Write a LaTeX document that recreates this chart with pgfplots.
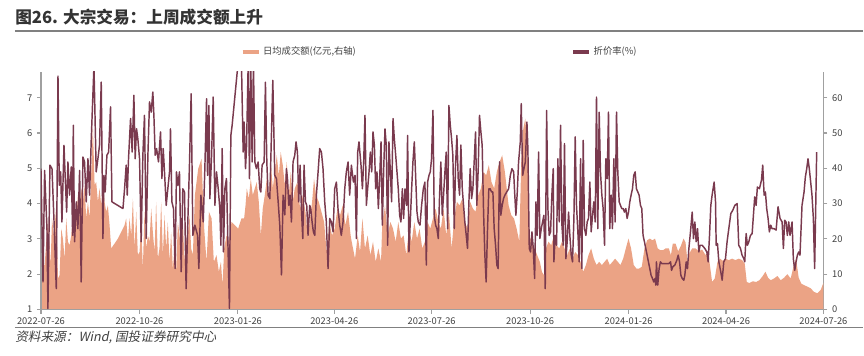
\documentclass[border=0pt]{standalone}
\usepackage{fontspec}
\usepackage{pgfplots}
\usepackage{pgfplotstable}
\pgfplotsset{compat=1.18}
\setmainfont{Noto Sans CJK SC}
\newfontfamily\srcfont[FakeSlant=0.2]{Noto Sans CJK SC}
\definecolor{areaC}{HTML}{EBA385}
\definecolor{lineC}{HTML}{7A3A4E}
\definecolor{axC}{HTML}{A0A0A0}
\definecolor{txtC}{HTML}{404040}
\definecolor{ttlC}{HTML}{333333}

\pgfplotstableread{
d v
0 4.99
1.9 1.78
3.4 4.94
5.6 3.29
6.5 1.03
8.4 5.09
10.3 4.99
12.1 3.58
14.3 1.59
15.9 7.61
17.1 4.52
18.4 4.90
19.6 3.48
21.5 5.65
22.7 4.71
24.0 3.76
25.2 5.18
26.7 4.24
28.3 5.04
29.6 3.10
30.2 6.22
31.4 2.92
33.0 4.05
34.5 3.29
36.1 4.94
37.6 1.78
39.2 5.32
40.7 5.18
42.3 4.05
43.9 5.27
45.4 4.24
47.0 5.84
49.5 7.9
51.6 4.90
53.2 5.27
54.7 5.65
56.3 7.44
57.9 3.01
58.8 4.80
60.0 4.33
61.6 5.37
63.2 5.46
65.0 6.74
66.3 4.05
76.6 3.86
78.1 4.42
79.6 5.09
80.6 4.24
81.8 5.27
83.7 6.41
85.2 5.46
86.8 7.07
88.0 5.27
89.3 6.12
90.5 5.84
92.1 5.27
93.6 2.92
95.2 5.37
96.7 6.50
98.3 3.01
99.9 5.37
101.4 6.88
103.0 6.59
104.5 7.16
105.5 6.50
106.7 5.37
108.0 5.56
109.8 5.18
111.7 6.03
113.0 4.71
114.2 5.56
115.4 4.90
117.0 3.95
118.5 4.42
120.1 4.90
121.0 6.12
122.3 4.05
123.8 3.86
125.3 2.16
126.6 4.90
127.9 4.52
129.4 4.90
131.0 2.07
132.5 4.42
134.1 4.33
135.6 1.59
137.2 3.48
138.8 5.18
140.3 7.11
141.9 3.10
143.8 3.39
146.3 3.10
147.5 2.16
149.4 4.24
151.6 3.48
153.1 4.99
154.7 6.97
155.6 4.80
156.9 6.78
157.8 4.14
159.4 5.37
160.9 7.02
162.5 3.95
164.0 4.90
165.6 4.42
167.1 3.86
168.1 2.82
169.3 5.56
170.5 2.63
171.8 4.42
173.3 4.71
174.9 2.54
176.1 1.03
177.4 5.93
178.6 6.22
184.2 8.0
187.3 8.0
188.9 5.46
189.8 6.31
191.1 4.99
192.0 5.56
193.6 8.0
194.8 4.71
196.0 8.0
197.3 5.18
198.5 8.0
199.8 5.18
201.3 4.99
202.9 5.18
204.4 4.42
205.4 4.33
206.6 5.09
208.5 5.18
209.7 7.44
211.0 5.18
212.2 4.24
213.8 4.14
216.6 7.49
218.4 4.80
220.0 4.71
221.6 4.05
223.1 3.39
224.7 1.98
226.2 4.24
227.8 3.68
229.3 4.99
230.3 4.71
231.5 3.95
232.7 4.24
234.0 3.48
235.5 5.18
237.1 5.37
238.3 5.75
239.6 5.46
240.8 4.05
242.1 5.09
243.3 3.86
244.6 3.01
245.8 5.09
247.1 4.05
248.3 3.95
249.5 3.10
251.1 3.95
252.0 3.86
253.3 3.48
254.5 3.20
255.8 3.10
257.3 4.24
258.9 4.90
260.4 5.56
262.0 5.46
263.5 4.99
265.1 4.05
266.6 3.48
268.2 2.16
269.8 3.58
271.3 3.48
272.9 3.20
274.4 4.42
276.0 4.61
277.5 3.86
279.1 3.39
280.6 3.10
282.2 3.48
283.8 4.42
285.3 4.90
286.9 5.18
288.4 4.24
290.0 5.09
291.9 4.61
293.4 4.80
294.7 3.01
295.9 5.46
297.1 5.75
299.0 5.09
300.3 4.42
301.5 5.18
302.7 6.50
304.0 3.95
305.2 4.42
306.5 4.90
307.7 5.46
309.0 4.90
310.2 6.03
311.5 5.65
312.7 4.42
313.9 4.90
315.2 3.86
316.4 4.71
317.7 5.75
318.9 3.39
320.2 4.99
321.4 6.12
322.6 5.65
323.9 2.82
325.1 5.75
326.4 4.90
327.6 4.05
328.9 6.41
330.1 5.84
331.4 5.37
332.6 4.90
333.8 4.42
335.1 3.67
336.3 3.48
337.6 4.42
338.8 3.58
340.1 4.42
341.6 3.95
342.5 5.93
343.8 2.63
345.0 3.48
346.3 4.42
347.5 5.18
348.8 5.75
350.0 4.80
351.3 3.76
352.5 3.48
354.1 3.39
355.6 3.95
357.2 4.42
358.7 4.61
360.0 2.26
361.2 4.61
362.5 4.80
363.7 4.90
364.9 5.27
366.2 6.64
367.4 3.67
368.7 3.39
369.9 3.29
371.2 3.01
372.4 4.24
373.6 5.18
374.9 3.67
376.1 4.24
377.4 4.90
378.6 5.46
379.9 3.29
381.1 6.78
382.4 6.22
383.6 5.84
384.8 5.37
386.1 3.29
387.3 5.09
388.6 5.93
389.8 4.71
391.1 4.24
392.3 5.66
393.6 4.42
394.8 3.95
396.0 3.48
397.3 3.10
398.5 2.73
399.8 4.05
401.0 4.99
402.3 4.14
403.5 4.42
404.7 5.18
406.0 6.03
407.2 3.95
408.5 4.99
409.7 6.50
411.0 6.03
412.2 5.65
413.5 3.76
414.7 2.54
415.9 1.78
417.2 3.29
418.4 4.42
419.7 4.42
420.9 4.33
422.2 4.33
423.4 3.29
424.7 2.82
425.9 2.26
427.1 2.16
428.4 5.18
429.6 3.67
430.9 3.95
432.1 4.14
433.4 4.24
436.9 4.42
438.5 4.80
440.0 4.99
441.6 4.90
442.5 4.33
443.7 3.67
445.0 4.33
446.2 5.18
447.8 5.75
448.7 6.83
450.0 4.80
451.2 4.99
452.5 5.18
454.0 6.31
454.9 5.56
456.2 2.73
457.4 2.63
458.7 3.20
459.9 2.73
461.2 1.88
462.4 4.05
463.6 3.10
464.9 5.46
466.1 3.01
467.4 3.29
468.6 3.48
469.9 3.67
471.1 1.59
472.4 6.64
473.6 3.86
474.8 3.10
476.1 3.20
477.3 4.24
478.6 4.99
479.2 2.35
480.4 3.10
481.7 2.82
482.9 5.27
484.2 3.48
485.4 6.22
486.7 3.39
487.9 2.82
489.1 5.70
490.4 2.44
491.6 2.92
492.9 3.76
494.1 3.10
495.4 2.54
496.6 2.35
497.9 3.58
499.1 5.89
500.3 3.95
501.6 3.20
502.8 2.35
504.1 5.27
505.3 2.16
506.6 5.79
507.8 3.29
509.1 3.10
510.3 3.48
511.5 3.58
512.8 4.61
514.0 3.20
515.3 3.67
516.5 4.05
517.8 3.48
519.0 7.02
520.2 3.29
521.5 6.59
522.7 4.90
524.0 4.24
525.2 3.86
526.5 2.82
527.7 5.27
529.0 4.71
530.2 6.59
531.4 3.29
532.7 4.24
533.9 3.29
535.2 5.27
536.4 3.48
537.7 6.59
538.9 4.90
540.2 4.05
541.4 3.95
542.6 3.86
543.9 3.86
545.1 3.76
546.4 3.86
547.6 3.58
548.9 3.76
550.1 4.05
551.3 4.24
552.6 4.42
553.8 4.80
555.1 4.90
556.3 4.42
557.6 4.33
558.8 4.24
560.1 3.95
561.3 3.86
562.5 3.10
563.8 2.92
565.0 2.73
566.3 2.54
567.5 2.35
568.8 2.16
570.0 1.97
571.3 1.88
572.5 1.78
573.7 1.88
574.4 1.69
575.0 2.35
576.2 1.69
577.5 2.16
578.7 2.35
580.0 2.30
583.5 2.30
586.6 2.30
588.2 2.35
589.1 2.11
590.3 2.21
592.2 2.26
594.1 2.40
595.3 2.54
596.6 2.35
597.8 1.97
599.1 1.88
600.6 1.83
601.5 1.97
602.8 2.35
604.0 2.16
605.3 2.73
606.8 3.20
608.4 3.76
609.6 3.01
610.9 3.48
612.1 2.92
613.4 3.29
614.6 2.63
615.8 2.82
617.7 2.82
620.2 2.73
622.1 2.63
623.3 2.35
624.6 3.10
625.8 3.95
627.0 4.24
628.9 4.61
630.2 4.05
630.8 2.82
632.0 2.87
633.3 2.35
635.1 2.07
636.4 1.83
637.9 2.35
639.5 2.44
641.0 2.92
642.6 3.29
644.5 3.72
646.3 3.81
648.2 3.95
650.4 4.00
651.9 2.82
653.5 2.73
655.0 2.54
656.6 2.44
657.5 2.35
658.8 3.15
660.0 2.82
661.3 2.92
662.8 3.10
664.4 3.15
665.6 3.67
666.8 4.19
668.1 3.95
669.3 4.47
671.2 4.42
673.1 4.66
674.3 5.09
675.6 4.24
676.8 4.33
678.0 3.86
679.3 3.58
680.5 3.20
681.8 3.39
683.0 3.29
684.9 3.29
686.8 3.25
688.6 3.91
690.5 3.58
692.4 3.48
693.6 2.73
694.8 3.53
696.1 3.48
697.3 3.10
698.6 3.48
699.8 3.10
701.7 3.48
702.9 2.44
704.2 2.11
705.4 2.35
706.7 2.54
707.9 2.63
709.1 2.54
711.0 3.95
712.9 4.33
714.1 4.75
715.4 4.99
716.6 5.27
717.8 4.99
719.1 4.61
720.3 4.24
721.6 3.58
722.8 2.16
724.7 5.46
}\linedata

\pgfplotstableread{
d v
0 13.5
3.4 12.5
6.5 25.8
9.0 12.5
10.3 25.8
12.1 21.0
14.3 29.5
15.9 8.8
17.4 9.7
19.0 22.9
20.5 20.1
22.1 14.4
23.6 25.8
25.2 19.2
26.7 18.2
28.3 21.0
29.9 27.7
31.4 22.9
33.0 25.8
34.5 32.4
36.1 25.8
37.6 34.3
39.2 30.5
40.7 35.2
42.3 25.8
43.9 30.5
45.4 25.8
47.0 39.0
48.5 52.2
50.1 35.2
51.6 36.1
53.2 30.5
54.7 34.3
56.3 29.5
57.9 36.1
59.4 30.5
61.0 27.7
62.5 29.5
64.1 23.9
65.6 17.3
68.8 18.7
71.9 20.1
75.0 22.0
78.1 23.9
79.6 25.8
81.2 19.2
82.7 25.8
84.3 21.0
85.9 31.4
87.4 17.3
89.0 27.7
90.5 15.4
92.1 16.3
93.6 23.9
95.2 11.6
96.7 27.7
98.3 17.3
99.9 21.0
101.4 19.2
103.0 28.6
104.5 22.0
106.1 16.3
107.6 30.5
109.2 14.4
110.7 17.3
112.3 30.5
113.9 15.4
115.4 26.7
117.0 17.3
118.5 24.8
120.1 13.5
121.6 22.0
123.2 11.6
124.7 17.3
126.3 11.1
127.9 24.8
129.4 21.0
131.0 17.3
132.5 25.8
134.1 13.5
135.6 19.2
137.2 21.0
138.8 26.7
140.3 17.3
141.9 15.4
143.8 32.4
146.9 39.9
150.0 42.7
152.5 22.9
154.7 13.5
156.9 27.7
159.4 25.8
161.5 13.5
164.0 15.4
166.2 10.7
168.1 13.5
169.6 6.9
171.2 17.3
173.3 21.0
175.5 19.2
178.0 24.8
181.1 23.9
184.2 22.9
187.3 25.8
189.8 25.8
191.1 29.5
192.3 34.3
194.2 31.4
196.0 37.1
197.9 32.4
199.8 34.3
201.6 36.1
203.5 30.5
205.4 21.0
207.2 28.6
209.1 32.4
211.0 37.1
212.8 30.5
214.7 41.8
216.6 34.3
218.4 39.0
220.3 43.7
222.2 38.0
224.0 44.6
225.9 40.9
227.8 35.2
229.6 41.8
231.5 32.4
233.4 39.0
235.2 30.5
237.1 34.3
239.6 36.1
242.1 28.6
244.6 32.4
247.1 27.7
249.5 20.1
251.4 25.8
253.3 30.5
255.1 37.1
257.0 32.4
259.5 30.5
262.0 27.7
264.5 24.8
267.0 16.0
269.4 24.8
271.9 21.0
274.4 22.9
276.9 28.6
279.4 26.7
281.9 29.5
284.4 23.9
286.9 27.7
289.3 21.0
290.3 19.2
293.4 14.4
295.9 21.0
298.1 16.3
300.3 25.8
302.7 17.3
305.2 21.0
307.7 15.4
310.2 19.2
312.7 13.5
315.2 17.3
317.7 13.5
318.9 24.8
320.2 26.7
321.4 29.5
323.9 21.0
326.4 24.8
328.9 22.9
331.4 19.2
333.8 24.8
336.3 20.1
338.8 21.0
341.3 15.4
343.8 22.9
346.3 19.2
348.8 24.8
351.3 20.1
353.7 22.9
356.2 17.3
358.7 19.2
361.2 24.8
363.7 22.9
366.2 25.8
368.7 28.6
371.2 24.8
373.6 22.9
376.1 28.6
378.6 21.0
381.1 27.7
383.6 17.3
386.1 25.8
388.6 30.5
391.1 29.5
393.6 31.4
396.0 24.8
398.5 22.9
401.0 30.5
403.5 28.6
406.0 27.7
408.5 32.4
411.0 34.3
413.5 39.0
415.9 38.0
418.4 40.9
420.9 36.1
423.4 34.3
425.9 39.0
428.4 41.8
430.9 43.7
433.4 39.0
436.9 29.5
439.4 26.7
441.9 25.8
444.4 22.9
446.9 19.2
448.7 41.8
450.6 51.2
452.5 54.1
454.3 45.6
456.2 21.0
458.7 19.2
461.2 17.3
463.6 15.4
466.1 13.5
468.0 10.7
469.9 9.7
471.7 17.3
474.2 19.2
476.7 18.2
479.2 21.0
481.7 18.2
484.2 17.3
486.7 19.2
489.1 17.3
491.6 15.4
494.1 17.3
496.6 14.4
499.1 16.3
501.6 15.4
504.1 13.5
506.6 10.7
509.1 12.6
511.5 15.4
514.0 17.3
516.5 14.4
519.0 12.6
521.5 13.5
524.0 12.6
526.5 13.5
529.0 14.4
531.4 12.6
533.9 13.5
536.4 14.4
538.9 13.5
541.4 12.6
543.9 14.4
546.4 17.3
548.9 20.1
551.3 17.3
553.8 12.6
556.3 11.6
558.8 11.6
561.3 12.1
563.8 17.3
566.3 19.6
568.8 20.1
571.3 19.6
573.7 20.1
576.2 17.3
578.7 16.8
581.2 16.8
583.5 17.3
586.6 17.3
588.5 15.4
590.3 18.7
592.8 18.7
595.3 16.5
597.8 18.0
600.3 20.1
602.2 19.0
604.0 13.5
605.9 16.0
608.4 17.3
611.5 17.3
614.6 16.5
617.7 17.0
620.8 15.4
623.3 16.5
625.2 12.0
627.0 7.8
629.5 8.8
632.0 13.5
634.5 14.4
637.0 13.8
639.5 14.4
642.6 14.0
645.7 14.4
648.8 14.0
651.9 14.4
655.0 14.0
657.5 13.0
659.4 7.8
661.9 7.5
665.0 8.0
668.1 7.8
671.2 8.3
674.3 9.5
676.8 10.7
679.3 9.0
681.8 8.3
684.9 8.8
688.0 9.5
691.1 8.3
694.2 9.0
697.3 10.0
700.4 8.8
702.9 12.0
705.4 14.4
707.9 9.0
710.4 7.3
712.9 6.9
716.0 6.5
719.1 6.0
722.2 5.0
725.3 4.6
728.4 5.5
730.9 7.5
}\areadata

\begin{document}
\begin{tikzpicture}
\path (-30.75pt,-34.7pt) rectangle (617.25pt,232.3pt);
\pgfplotsset{
  common/.style={
    width=587.25pt, height=178.3pt, scale only axis,
    at={(0,0)}, anchor=south west,
    xmin=0, xmax=731,
    tick align=outside,
    major tick length=3pt,
    axis line style={draw=axC, line width=0.8pt, -},
    major tick style={draw=axC, line width=0.8pt},
    ticklabel style={text=txtC, font=\fontsize{7}{8}\selectfont},
    /pgf/number format/assume math mode=true,
    clip=true,
  }
}
\begin{axis}[common,
  axis x line=none,
  axis y line*=right,
  ymin=0, ymax=67.3,
  ytick={0,10,...,60},
]
\addplot[fill=areaC, draw=none] table[x=d,y=v]{\areadata} \closedcycle;
\end{axis}
\begin{axis}[common,
  axis x line*=bottom,
  axis y line*=left,
  ymin=1, ymax=7.73,
  ytick={1,2,...,7},
  xtick={0,92,184,274,365,457,549,640,731},
  xticklabels={2022-07-26,2022-10-26,2023-01-26,2023-04-26,2023-07-26,2023-10-26,2024-01-26,2024-04-26,2024-07-26},
  legend columns=2,
  legend image code/.code={\draw[#1, line width=2.5pt] (0pt,0pt) -- (12pt,0pt);},
  legend style={at={(axis description cs:0.2554,1.084)}, anchor=west,
    draw=none, fill=none, inner sep=0pt,
    font=\fontsize{7}{8}\selectfont, text=txtC,
    /tikz/every even column/.append style={column sep=160pt}},
]
\addlegendimage{areaC}
\addlegendentry{日均成交额(亿元,右轴)}
\addplot[lineC, line width=1.1pt, line join=round] table[x=d,y=v]{\linedata};
\addlegendentry{折价率(\%)}
\end{axis}
\node[anchor=west, inner sep=0pt, text=ttlC, font=\fontsize{12.5}{14}\selectfont\bfseries] at (-19.5pt,219.5pt) {图26. 大宗交易：上周成交额上升};
\draw[color=gray, line width=0.9pt] (-19.5pt,209pt) -- (617.25pt,209pt);
\draw[color=gray, line width=0.9pt] (-19.5pt,-13.4pt) -- (617.25pt,-13.4pt);
\node[anchor=west, inner sep=0pt, text=txtC, font=\srcfont\fontsize{9.5}{11}\selectfont] at (-19.5pt,-20.8pt) {资料来源：Wind, 国投证券研究中心};
\end{tikzpicture}
\end{document}
